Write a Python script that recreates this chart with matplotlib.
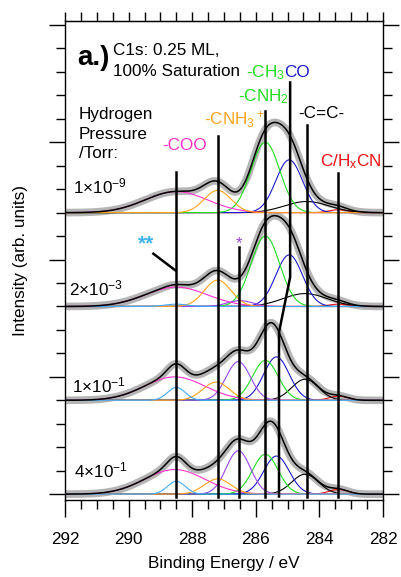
import numpy as np
import matplotlib
matplotlib.use("Agg")
import matplotlib.pyplot as plt
from matplotlib.ticker import MultipleLocator, NullFormatter

plt.rcParams['font.family'] = ['Liberation Sans', 'DejaVu Sans']
plt.rcParams['mathtext.default'] = 'regular'

# -- 피팅 성분 (C1s) ------------------------------------------------------------
# 순서: COO, **, CNH3+, *, CNH2, CO, C=C, C/HxCN
comp_colors = ["#ff33cc", "#44aaff", "#ffa31a", "#9944ee",
               "#22dd22", "#1a1acc", "#000000", "#ee1111"]
comp_z = [2.3, 2.6, 2.4, 2.2, 2.15, 2.1, 2.05, 2.0]

pressure_labels = ["1×10$^{-9}$", "2×10$^{-3}$", "1×10$^{-1}$", "4×10$^{-1}$"]
offsets = [2.4, 1.6, 0.8, 0.0]

centers_1e9 = [288.5, 288.5, 287.2, 286.5, 285.7, 284.95, 284.4, 283.4]
heights_1e9 = [0.18, 0.0, 0.19, 0.0, 0.60, 0.45, 0.095, 0.025]
widths_1e9 = [0.98, 0.3, 0.42, 0.35, 0.45, 0.42, 0.7, 0.3]

centers_2e3 = [288.5, 288.5, 287.2, 286.5, 285.7, 284.95, 284.45, 283.4]
heights_2e3 = [0.165, 0.02, 0.225, 0.05, 0.60, 0.44, 0.11, 0.02]
widths_2e3 = [0.98, 0.35, 0.42, 0.4, 0.45, 0.42, 0.7, 0.3]

centers_1e1 = [288.55, 288.5, 287.25, 286.55, 285.7, 285.35, 284.45, 283.4]
heights_1e1 = [0.20, 0.11, 0.155, 0.33, 0.34, 0.37, 0.18, 0.035]
widths_1e1 = [0.95, 0.28, 0.42, 0.38, 0.4, 0.4, 0.42, 0.3]

centers_4e1 = [288.55, 288.5, 287.2, 286.55, 285.7, 285.35, 284.45, 283.4]
heights_4e1 = [0.21, 0.11, 0.13, 0.37, 0.34, 0.325, 0.17, 0.04]
widths_4e1 = [0.95, 0.28, 0.42, 0.38, 0.4, 0.4, 0.42, 0.3]

spectra = [
    (centers_1e9, heights_1e9, widths_1e9),
    (centers_2e3, heights_2e3, widths_2e3),
    (centers_1e1, heights_1e1, widths_1e1),
    (centers_4e1, heights_4e1, widths_4e1),
]

# -- 성분 위치 표시선 -----------------------------------------------------------
marker_energy = [288.52, 287.2, 285.72, 284.4, 283.42]
marker_top = [2.75, 3.05, 3.27, 3.15, 2.74]
co_line_energy = [284.92, 284.92, 285.27, 285.27]
co_line_y = [3.51, 1.85, 1.38, -0.02]
star_energy = 286.53
star_top = 2.11


def gauss(x, c, h, w):
    return h * np.exp(-0.5 * ((x - c) / w) ** 2)


fig = plt.figure(figsize=(4.01, 5.77), dpi=100)
ax = fig.add_axes([0.1621, 0.1334, 0.7930, 0.8302])

x = np.linspace(292, 282, 1001)

for (cs, hs, ws), off in zip(spectra, offsets):
    env = np.zeros_like(x)
    for c, h, w in zip(cs, hs, ws):
        env += gauss(x, c, h, w)
    ax.plot(x, off + env, color="#b5b5b5", lw=5.5, solid_capstyle="round", zorder=1)
    for i, (c, h, w) in enumerate(zip(cs, hs, ws)):
        if h <= 0:
            continue
        ax.plot(x, off + gauss(x, c, h, w), color=comp_colors[i], lw=0.8,
                zorder=comp_z[i])
    ax.plot(x, off + env, color="black", lw=1.1, zorder=3)

# 수직 표시선
for e, top in zip(marker_energy, marker_top):
    ax.plot([e, e], [-0.02, top], color="black", lw=1.8, zorder=4)
ax.plot(co_line_energy, co_line_y, color="black", lw=1.8, zorder=4)
ax.plot([star_energy, star_energy], [-0.02, star_top], color="black", lw=1.8, zorder=4)
ax.plot([289.22, 288.54], [2.05, 1.91], color="black", lw=1.8, zorder=4)

fs = 12.3
ax.text(291.62, 3.66, "a.)", fontsize=20, fontweight="bold", va="baseline")
ax.text(290.5, 3.74, "C1s: 0.25 ML,", fontsize=fs, va="baseline")
ax.text(290.5, 3.565, "100% Saturation", fontsize=fs, va="baseline")
ax.text(285.1, 3.555, "-CH$_3$", color="#22dd22", fontsize=fs, ha="right", va="baseline")
ax.text(285.1, 3.555, "CO", color="#1a1acc", fontsize=fs, ha="left", va="baseline")
ax.text(286.56, 3.346, "-CNH$_2$", color="#22dd22", fontsize=fs, va="baseline")
ax.text(287.63, 3.147, "-CNH$_3{}^+$", color="#ffa31a", fontsize=fs, va="baseline")
ax.text(284.67, 3.207, "-C=C-", color="black", fontsize=fs, va="baseline")
ax.text(283.98, 2.797, "C/H$_x$CN", color="#ee1111", fontsize=fs, va="baseline")
ax.text(288.95, 2.934, "-COO", color="#ff33cc", fontsize=fs, va="baseline")
for txt, yb in zip(["Hydrogen", "Pressure", "/Torr:"], [3.198, 3.028, 2.866]):
    ax.text(291.56, yb, txt, fontsize=fs, va="baseline")
for lab, xl, yb in zip(pressure_labels, [291.75, 291.87, 291.78, 291.72],
                       [2.567, 1.697, 0.87, 0.145]):
    ax.text(xl, yb, lab, fontsize=fs, va="baseline")
ax.text(289.45, 2.13, "**", color="#44b4ee", fontsize=15, ha="center", va="center",
        fontweight="bold")
ax.text(286.52, 2.14, "*", color="#9944ee", fontsize=12, ha="center", va="center")

# -- 축 ------------------------------------------------------------------------
ax.set_xlim(292, 282)
ax.set_ylim(-0.05, 4.034)
ax.xaxis.set_major_locator(MultipleLocator(2))
ax.xaxis.set_minor_locator(MultipleLocator(0.5))
ax.yaxis.set_major_locator(MultipleLocator(1))
ax.yaxis.set_minor_locator(MultipleLocator(0.2))
ax.yaxis.set_major_formatter(NullFormatter())
ax.tick_params(axis="x", which="major", direction="out", length=12.2, width=1,
               labelsize=fs, pad=11, top=False)
ax.tick_params(axis="x", which="minor", direction="out", length=6.5, width=1, top=False)
ax.tick_params(axis="y", which="major", direction="out", length=11.5, width=1,
               left=True, right=True)
ax.tick_params(axis="y", which="minor", direction="out", length=6.2, width=1,
               left=True, right=True)

sec = ax.secondary_xaxis("top")
sec.xaxis.set_major_locator(MultipleLocator(0.5))
sec.xaxis.set_major_formatter(NullFormatter())
sec.tick_params(direction="out", length=6.5, width=1)

for sp in ax.spines.values():
    sp.set_linewidth(1)

ax.set_xlabel("Binding Energy / eV", fontsize=fs, labelpad=6)
ax.set_ylabel("Intensity (arb. units)", fontsize=fs)
ax.yaxis.set_label_coords(-0.115, 0.5)

fig.savefig("out.png", dpi=100)
